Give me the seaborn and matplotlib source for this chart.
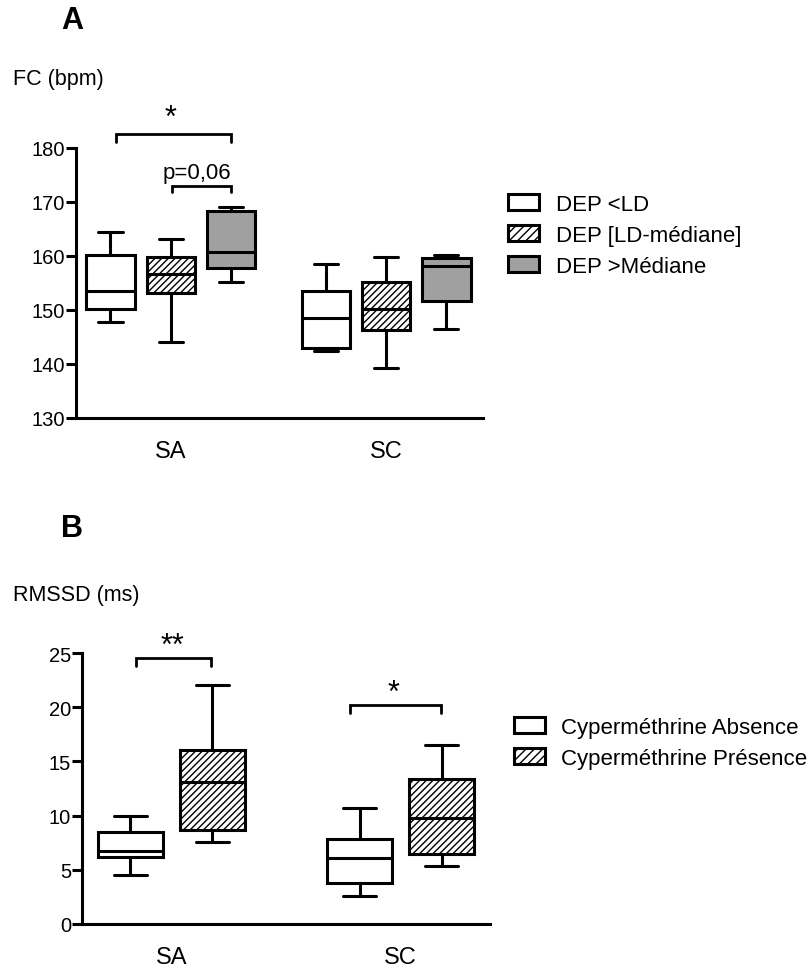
import pandas as pd
import seaborn as sns
import matplotlib
matplotlib.use('Agg')
import matplotlib.pyplot as plt
from matplotlib.patches import Patch

# Categories
conditions = ['SA', 'SC']
fc_levels = ['DEP <LD', 'DEP [LD-médiane]', 'DEP >Médiane']
rmssd_levels = ['Cyperméthrine Absence', 'Cyperméthrine Présence']

# Five-number summaries: min, Q1, median, Q3, max
fc_sa_ld = [147.8, 150.1, 153.5, 160.2, 164.5]
fc_sa_mid = [144.1, 153.1, 156.7, 159.8, 163.1]
fc_sa_high = [155.2, 157.8, 160.7, 168.4, 169.0]
fc_sc_ld = [142.5, 142.9, 148.5, 153.6, 158.5]
fc_sc_mid = [139.3, 146.3, 150.1, 155.1, 159.9]
fc_sc_high = [146.5, 151.7, 158.1, 159.6, 160.1]

rm_sa_abs = [4.55, 6.2, 6.77, 8.45, 9.93]
rm_sa_pres = [7.6, 8.67, 13.1, 16.05, 22.05]
rm_sc_abs = [2.58, 3.75, 6.06, 7.8, 10.67]
rm_sc_pres = [5.38, 6.49, 9.78, 13.38, 16.54]

# significance brackets: x start, x end, y, tip drop, label, label x, label baseline
fc_brackets = [(-0.255, 0.28, 182.6, 1.5, '*', 0.0, 184.0),
               (0.005, 0.28, 173.0, 1.1, 'p=0,06', 0.12, 174.4)]
rm_brackets = [(-0.154, 0.171, 24.5, 0.7, '**', 0.005, 24.9),
               (0.781, 1.175, 20.2, 0.7, '*', 0.97, 20.6)]

GREY = '#a0a0a0'
HATCH_FACE = '#fdfdfd'
LW = 2.2


def long_df(blocks, levels):
    rows = []
    for cond, groups in zip(conditions, blocks):
        for lvl, vals in zip(levels, groups):
            for v in vals:
                rows.append({'cond': cond, 'grp': lvl, 'val': v})
    return pd.DataFrame(rows)


def style_axis(ax, ylim, yticks):
    ax.set_ylim(*ylim)
    ax.set_yticks(yticks)
    ax.set_xlabel('')
    ax.set_ylabel('')
    sns.despine(ax=ax)
    for side in ['left', 'bottom']:
        ax.spines[side].set_linewidth(LW)
    ax.tick_params(axis='y', length=7, width=LW, pad=1, labelsize=14.5)
    ax.tick_params(axis='x', length=0, pad=16, labelsize=17)


def hatch_boxes(ax):
    for p in ax.patches:
        fc = matplotlib.colors.to_hex(p.get_facecolor())
        if fc == HATCH_FACE:
            p.set_hatch('/////')


def draw_brackets(ax, brackets):
    for x1, x2, y, h, label, tx, ty in brackets:
        ax.plot([x1, x1, x2, x2], [y - h, y, y, y - h], color='black', lw=LW - 0.2,
                clip_on=False, solid_joinstyle='miter')
        size = 22 if label.startswith('*') else 16
        ax.text(tx, ty, label, ha='center', va='baseline', fontsize=size)


def main():
    sns.set_style('ticks')
    plt.rcParams['font.family'] = ['Liberation Sans', 'DejaVu Sans']
    plt.rcParams['hatch.linewidth'] = 1.0
    for key in ['text.color', 'axes.edgecolor', 'axes.labelcolor', 'xtick.color', 'ytick.color']:
        plt.rcParams[key] = 'black'

    fig = plt.figure(figsize=(8.1, 9.7), dpi=100)

    # Panel A
    df_fc = long_df([[fc_sa_ld, fc_sa_mid, fc_sa_high],
                     [fc_sc_ld, fc_sc_mid, fc_sc_high]], fc_levels)
    pal_fc = dict(zip(fc_levels, ['white', HATCH_FACE, GREY]))
    ax1 = fig.add_axes([76 / 810, 551 / 970, 407 / 810, 270 / 970])
    sns.boxplot(data=df_fc, x='cond', y='val', hue='grp', order=conditions, hue_order=fc_levels,
                palette=pal_fc, whis=(0, 100), width=0.84, gap=0.2, linewidth=LW,
                linecolor='black', saturation=1, legend=False, ax=ax1)
    hatch_boxes(ax1)
    ax1.set_xlim(-0.44, 1.45)
    style_axis(ax1, (130, 180), range(130, 181, 10))
    draw_brackets(ax1, fc_brackets)

    handles = [Patch(facecolor='white', edgecolor='black', linewidth=LW),
               Patch(facecolor='white', edgecolor='black', linewidth=LW, hatch='////'),
               Patch(facecolor=GREY, edgecolor='black', linewidth=LW)]
    fig.legend(handles, fc_levels, loc='upper left', bbox_to_anchor=(508 / 810, 1 - 195 / 970),
               frameon=False, fontsize=16, handlelength=1.4, handleheight=0.7,
               handletextpad=0.75, labelspacing=0.45, borderpad=0, borderaxespad=0)

    fig.text(72 / 810, 1 - 21 / 970, 'A', fontsize=22, fontweight='bold', ha='center', va='center')
    fig.text(13 / 810, 1 - 79 / 970, 'FC (bpm)', fontsize=15.5, ha='left', va='center')

    # Panel B
    df_rm = long_df([[rm_sa_abs, rm_sa_pres], [rm_sc_abs, rm_sc_pres]], rmssd_levels)
    pal_rm = dict(zip(rmssd_levels, ['white', HATCH_FACE]))
    ax2 = fig.add_axes([82 / 810, 45 / 970, 408 / 810, 271 / 970])
    sns.boxplot(data=df_rm, x='cond', y='val', hue='grp', order=conditions, hue_order=rmssd_levels,
                palette=pal_rm, whis=(0, 100), width=0.715, gap=0.2, linewidth=LW,
                linecolor='black', saturation=1, legend=False, ax=ax2)
    hatch_boxes(ax2)
    ax2.set_xlim(-0.39, 1.39)
    style_axis(ax2, (0, 25), range(0, 26, 5))
    draw_brackets(ax2, rm_brackets)

    handles = [Patch(facecolor='white', edgecolor='black', linewidth=LW),
               Patch(facecolor='white', edgecolor='black', linewidth=LW, hatch='////')]
    fig.legend(handles, rmssd_levels, loc='upper left', bbox_to_anchor=(514 / 810, 1 - 718 / 970),
               frameon=False, fontsize=16, handlelength=1.4, handleheight=0.7,
               handletextpad=0.7, labelspacing=0.45, borderpad=0, borderaxespad=0)

    fig.text(72 / 810, 1 - 529 / 970, 'B', fontsize=22, fontweight='bold', ha='center', va='center')
    fig.text(13 / 810, 1 - 595 / 970, 'RMSSD (ms)', fontsize=15.5, ha='left', va='center')

    fig.savefig('out.png', dpi=100)


if __name__ == "__main__":
    main()
